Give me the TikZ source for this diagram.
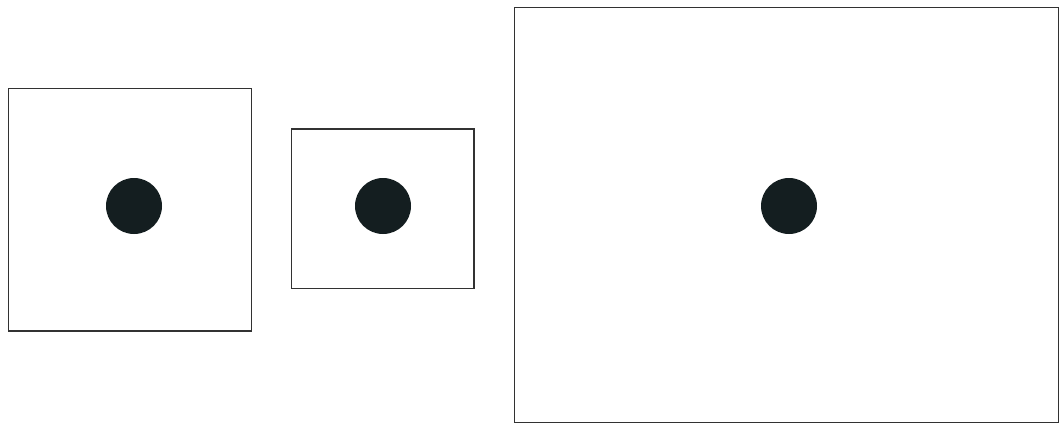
\documentclass[tikz,border=0pt]{standalone}
\definecolor{dot}{RGB}{20,30,32}
\definecolor{frame}{RGB}{50,50,50}
\begin{document}
\begin{tikzpicture}[x=1pt,y=-1pt,
  box/.style={draw=frame,line width=1.3pt},
  blob/.style={circle,fill=dot,draw=none,minimum size=56pt,inner sep=0pt}]
\useasboundingbox (0,0) rectangle (1060,424);
\draw[box] (8.5,88.5) rectangle (251.5,331) coordinate (r1);
\draw[box] (291.5,129) rectangle (474,288.5) coordinate (r2);
\draw[box] (514.5,7.5) rectangle (1058.5,422.5) coordinate (r3);
\node[blob] (c1) at (134,206) {};
\node[blob] (c2) at (383,206) {};
\node[blob] (c3) at (789,206) {};
\end{tikzpicture}
\end{document}
